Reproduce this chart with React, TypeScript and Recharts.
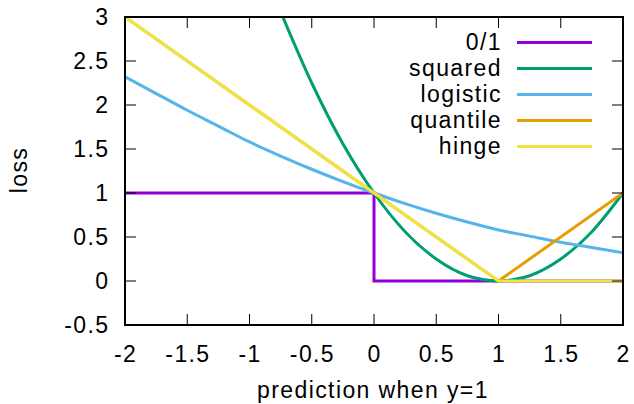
import { Label, Legend, Line, LineChart, XAxis, YAxis } from "recharts";

// axis ticks
const X_TICKS = [-2, -1.5, -1, -0.5, 0, 0.5, 1, 1.5, 2];
const Y_TICKS = [-0.5, 0, 0.5, 1, 1.5, 2, 2.5, 3];

// 0/1 loss
const ZERO_ONE_X = [-2, 0, 0, 2];
const ZERO_ONE_Y = [1, 1, 0, 0];

// squared loss
const SQUARED_X = [-0.75, -0.5, -0.25, 0, 0.25, 0.5, 0.75, 0.875, 1, 1.125, 1.25, 1.5, 1.75, 2];
const SQUARED_Y = [3.06, 2.25, 1.56, 1, 0.56, 0.25, 0.06, 0.016, 0, 0.016, 0.06, 0.25, 0.56, 1];

// logistic loss
const LOGISTIC_X = [-2, -1.75, -1.5, -1.25, -1, -0.75, -0.5, -0.25, 0, 0.25, 0.5, 0.75, 1, 1.25, 1.5, 1.75, 2];
const LOGISTIC_Y = [2.32, 2.13, 1.94, 1.76, 1.58, 1.42, 1.27, 1.13, 1, 0.88, 0.77, 0.67, 0.58, 0.51, 0.44, 0.38, 0.32];

// quantile loss
const QUANTILE_X = [-2, 1, 2];
const QUANTILE_Y = [3, 0, 1];

// hinge loss
const HINGE_X = [-2, 1, 2];
const HINGE_Y = [3, 0, 0];

const toRows = (xs: number[], ys: number[]) => xs.map((x, i) => ({ x, y: ys[i] }));

const SERIES = [
  { name: "0/1", color: "#9400d3", type: "linear" as const, data: toRows(ZERO_ONE_X, ZERO_ONE_Y) },
  { name: "squared", color: "#009e73", type: "monotone" as const, data: toRows(SQUARED_X, SQUARED_Y) },
  { name: "logistic", color: "#56b4e9", type: "monotone" as const, data: toRows(LOGISTIC_X, LOGISTIC_Y) },
  { name: "quantile", color: "#e69f00", type: "linear" as const, data: toRows(QUANTILE_X, QUANTILE_Y) },
  { name: "hinge", color: "#f0e442", type: "linear" as const, data: toRows(HINGE_X, HINGE_Y) },
];

const FONT = {
  fontFamily: "'Liberation Sans', Arial, sans-serif",
  fontSize: 23,
  letterSpacing: "1.4px",
  fill: "#000",
};

const TICK_LEN = 11;

function BottomTick(props: any) {
  const { x, y, payload } = props;
  const axisY = y - 20;
  return (
    <g>
      <line x1={x} y1={axisY} x2={x} y2={axisY - TICK_LEN} stroke="#000" strokeWidth={1} />
      <text x={x + 0.7} y={y + 17} textAnchor="middle" style={FONT}>
        {String(payload.value)}
      </text>
    </g>
  );
}

function LeftTick(props: any) {
  const { x, y, payload } = props;
  const axisX = x + 17;
  return (
    <g>
      <line x1={axisX} y1={y} x2={axisX + TICK_LEN} y2={y} stroke="#000" strokeWidth={1} />
      <text x={x + 1.4} y={y + 8} textAnchor="end" style={FONT}>
        {String(payload.value)}
      </text>
    </g>
  );
}

function TopTick(props: any) {
  const { x, y } = props;
  return <line x1={x} y1={y} x2={x} y2={y + TICK_LEN} stroke="#000" strokeWidth={1} />;
}

function RightTick(props: any) {
  const { x, y } = props;
  return <line x1={x} y1={y} x2={x - TICK_LEN} y2={y} stroke="#000" strokeWidth={1} />;
}

function LegendBox() {
  return (
    <div style={{ position: "relative", width: 200, height: 132 }}>
      {SERIES.map((s, i) => (
        <div
          key={s.name}
          style={{ position: "absolute", left: 0, top: i * 26, width: 200, height: 26 }}
        >
          <span
            style={{
              position: "absolute",
              right: 98,
              top: 0,
              lineHeight: "26px",
              fontFamily: FONT.fontFamily,
              fontSize: 23,
              letterSpacing: "1.4px",
              color: "#000",
              whiteSpace: "nowrap",
            }}
          >
            {s.name}
          </span>
          <div
            style={{
              position: "absolute",
              left: 117,
              top: 12,
              width: 75,
              height: 3,
              background: s.color,
            }}
          />
        </div>
      ))}
    </div>
  );
}

export default function App() {
  return (
    <div style={{ position: "absolute", left: 0, top: 0, width: 634, height: 404, background: "#fff" }}>
      <LineChart width={634} height={404} margin={{ top: 0, right: 0, bottom: 0, left: 0 }}>
        <XAxis
          xAxisId="bottom"
          dataKey="x"
          type="number"
          domain={[-2, 2]}
          allowDataOverflow
          ticks={X_TICKS}
          interval={0}
          height={79}
          tickSize={0}
          tickMargin={20}
          tick={<BottomTick />}
          axisLine={{ stroke: "#000", strokeWidth: 2, strokeLinecap: "square" }}
        >
          <Label
            content={(p: any) => {
              const vb = p.viewBox;
              return (
                <text x={vb.x + vb.width / 2 - 1} y={398} textAnchor="middle" style={FONT}>
                  prediction when y=1
                </text>
              );
            }}
          />
        </XAxis>
        <XAxis
          xAxisId="top"
          orientation="top"
          dataKey="x"
          type="number"
          domain={[-2, 2]}
          allowDataOverflow
          ticks={X_TICKS}
          interval={0}
          height={17}
          tickSize={0}
          tickMargin={0}
          tick={<TopTick />}
          axisLine={{ stroke: "#000", strokeWidth: 2, strokeLinecap: "square" }}
        />
        <YAxis
          yAxisId="left"
          type="number"
          domain={[-0.5, 3]}
          allowDataOverflow
          ticks={Y_TICKS}
          interval={0}
          width={125}
          tickSize={0}
          tickMargin={17}
          tick={<LeftTick />}
          axisLine={{ stroke: "#000", strokeWidth: 2, strokeLinecap: "square" }}
        >
          <Label
            content={(p: any) => {
              const vb = p.viewBox;
              const cy = vb.y + vb.height / 2 - 1;
              return (
                <text
                  x={27}
                  y={cy}
                  textAnchor="middle"
                  transform={`rotate(-90, 27, ${cy})`}
                  style={FONT}
                >
                  loss
                </text>
              );
            }}
          />
        </YAxis>
        <YAxis
          yAxisId="right"
          orientation="right"
          type="number"
          domain={[-0.5, 3]}
          allowDataOverflow
          ticks={Y_TICKS}
          interval={0}
          width={11}
          tickSize={0}
          tickMargin={0}
          tick={<RightTick />}
          axisLine={{ stroke: "#000", strokeWidth: 2, strokeLinecap: "square" }}
        />
        {SERIES.map((s) => (
          <Line
            key={s.name}
            xAxisId="bottom"
            yAxisId="left"
            data={s.data}
            dataKey="y"
            name={s.name}
            type={s.type}
            stroke={s.color}
            strokeWidth={3}
            dot={false}
            activeDot={false}
            isAnimationActive={false}
          />
        ))}
        <Legend
          layout="vertical"
          align="center"
          verticalAlign="middle"
          wrapperStyle={{ top: 29, left: 400, width: 200 }}
          content={() => <LegendBox />}
        />
      </LineChart>
    </div>
  );
}
